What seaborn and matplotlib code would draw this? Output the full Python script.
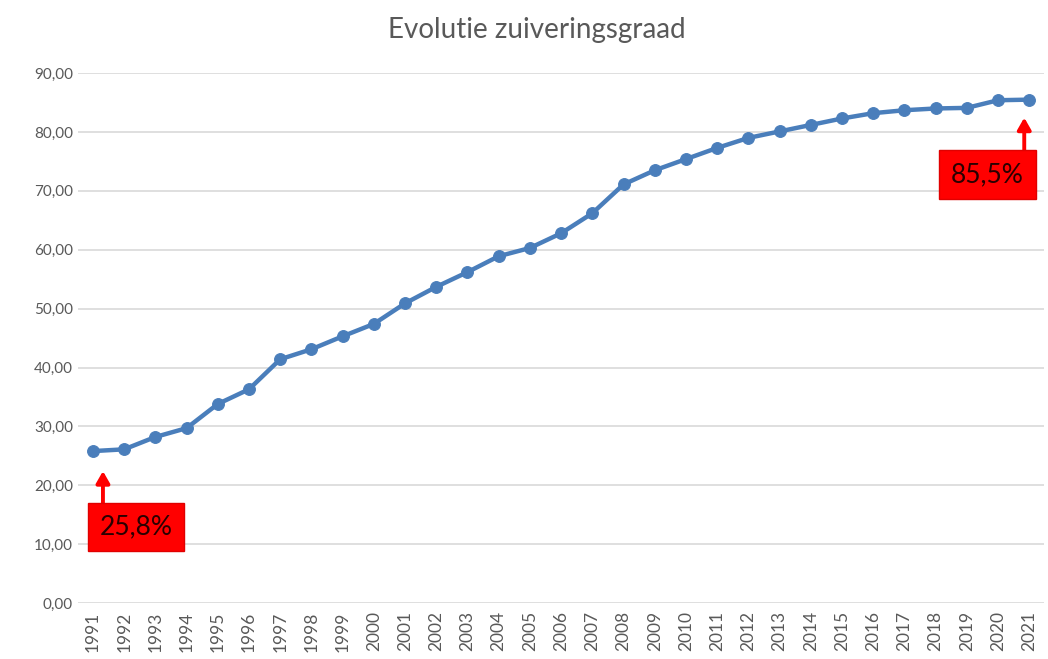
import matplotlib
matplotlib.use("Agg")
import matplotlib.pyplot as plt
import matplotlib.transforms as mt
import seaborn as sns
import pandas as pd
from matplotlib.ticker import FuncFormatter

years = [str(y) for y in range(1991, 2022)]
values = [25.8, 26.1, 28.2, 29.7, 33.8, 36.3, 41.4, 43.1, 45.3, 47.4,
          50.9, 53.7, 56.2, 58.9, 60.3, 62.8, 66.2, 71.1, 73.5, 75.4,
          77.3, 79.0, 80.1, 81.2, 82.3, 83.2, 83.7, 84.0, 84.1, 85.4, 85.5]
title = "Evolutie zuiveringsgraad"
first_label = "25,8%"
last_label = "85,5%"

sns.set_style("white")
plt.rcParams['font.family'] = ['Lato', 'DejaVu Sans']

df = pd.DataFrame({"jaar": years, "graad": values})
df["pos"] = range(len(df))

fig = plt.figure(figsize=(10.48, 6.59), dpi=100)
ax = fig.add_axes([0.0744, 0.085, 0.922, 0.804])

sns.lineplot(data=df, x="pos", y="graad", ax=ax, color="#4a7ebb",
             linewidth=3.2, marker="o", markersize=8.5, markeredgecolor="#4a7ebb")

ax.set_ylim(0, 90)
ax.set_xlim(-0.48, len(years) - 0.52)
ax.set_yticks(range(0, 91, 10))
ax.yaxis.set_major_formatter(FuncFormatter(lambda v, p: f"{v:.2f}".replace(".", ",")))
ax.set_xticks(df["pos"])
ax.set_xticklabels(years, rotation=90)
ax.tick_params(axis="both", colors="#595959", labelsize=11, length=0)
ax.tick_params(axis="x", labelsize=12.5, pad=6)
ax.grid(axis="y", color="#d9d9d9", linewidth=1.2)
ax.set_axisbelow(True)
for s in ax.spines.values():
    s.set_visible(False)
ax.set_xlabel("")
ax.set_ylabel("")
fig.text(0.512, 0.955, title, ha="center", va="center", fontsize=20, color="#595959")


def draw_callout(i, label, arrow_dx, tip_dy, base_dy, box_dx, box_dy):
    v = values[i]
    tr_tip = mt.offset_copy(ax.transData, fig=fig, x=arrow_dx, y=tip_dy, units="dots")
    tr_base = mt.offset_copy(ax.transData, fig=fig, x=arrow_dx, y=base_dy, units="dots")
    ax.annotate("", xy=(i, v), xycoords=tr_tip, xytext=(i, v), textcoords=tr_base,
                arrowprops=dict(arrowstyle="-|>,head_width=0.4,head_length=0.7",
                                color="#ff0000", lw=2.8, shrinkA=0, shrinkB=0))
    tr_box = mt.offset_copy(ax.transData, fig=fig, x=box_dx, y=box_dy, units="dots")
    ax.text(i, v, label, transform=tr_box, ha="center", va="center",
            fontsize=19, color="#2a0000",
            bbox=dict(boxstyle="square,pad=0.45", fc="#ff0000", ec="#e00000",
                      lw=1))


draw_callout(0, first_label, 10, -20, -53, 43, -76)
draw_callout(len(values) - 1, last_label, -5, -18, -52, -42, -75)

fig.savefig("out.png", dpi=100, facecolor="white")
